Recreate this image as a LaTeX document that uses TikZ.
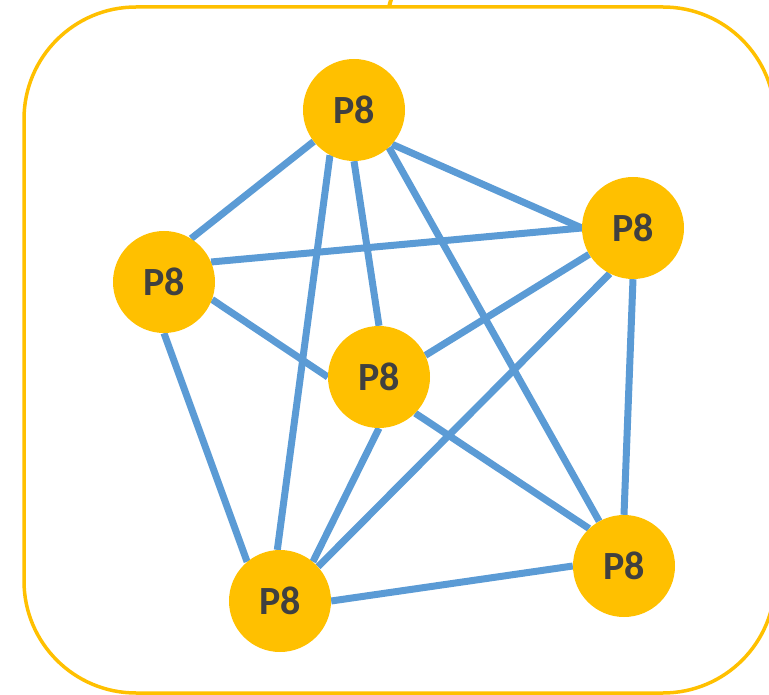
\documentclass[tikz,border=0pt]{standalone}
\usepackage{fontspec}
\setsansfont{Carlito}
\usetikzlibrary{backgrounds}
\definecolor{gold}{HTML}{FFC000}
\definecolor{linkblue}{HTML}{5B9BD5}
\definecolor{labelgray}{HTML}{404040}

\begin{document}
\begin{tikzpicture}[x=1pt,y=-1pt,
                 peer/.style={circle,fill=gold,minimum size=102pt,inner sep=0pt,text=labelgray,font=\sffamily\bfseries\fontsize{40}{40}\selectfont},
                 link/.style={linkblue,line width=7pt}]
                 \useasboundingbox (0,0) rectangle (769,695);
                 \draw[gold,line width=3.5pt,rounded corners=112pt] (24,7) rectangle (775,693);
                 \coordinate (lid) at (389,7);
                 \coordinate (up) at (392,-4);
                 \draw[gold,line width=4pt](lid)--(up);
                 \node[peer](t)at(354,110){P8};
                 \node[peer](l)at(164,282){P8};
                 \node[peer](ru)at(633,228){P8};
                 \node[peer](c)at(379,377){P8};
                 \node[peer](bl)at(280,601){P8};
                 \node[peer](br)at(624,566){P8};
                 \begin{scope}[on background layer]
                   \draw[link](t.218)--(l.58);
                   \draw[link](t.242)--(bl.93);
                   \draw[link](t.270)--(c.90);
                   \draw[link](t.313)--(br.119);
                   \draw[link](t.318)--(ru.180);
                   \draw[link](l.23)--(ru.180);
                   \draw[link](l.340)--(c.180);
                   \draw[link](l.270)--(bl.130);
                   \draw[link](ru.211)--(c.25);
                   \draw[link](ru.243)--(bl.42);
                   \draw[link](ru.270)--(br.90);
                   \draw[link](c.270)--(bl.50);
                   \draw[link](c.315)--(br.133);
                   \draw[link](bl.0)--(br.180);
                 \end{scope}
               \end{tikzpicture}
\end{document}
